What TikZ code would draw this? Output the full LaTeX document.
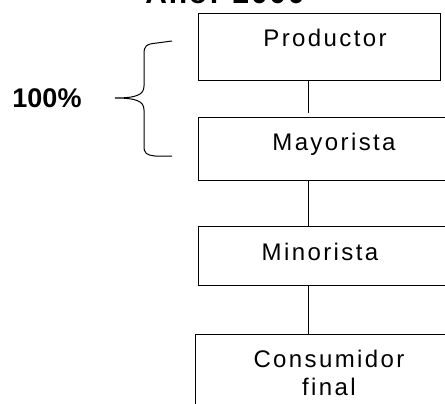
\documentclass[tikz,border=0pt]{standalone}
\usepackage{fontspec}
\setmainfont{Liberation Sans}
\begin{document}
\begin{tikzpicture}[x=1pt,y=-1pt,
  boxst/.style={draw=black, line width=1pt, anchor=north west, inner sep=0pt},
  lbl/.style={font=\fontsize{24}{28}\selectfont\addfontfeature{LetterSpace=10}, anchor=base, inner sep=0pt, align=center},
  conn/.style={draw=black, line width=1pt},
  pct/.style={font=\bfseries\fontsize{27}{30}\selectfont, inner sep=0pt},
  ttl/.style={font=\bfseries\fontsize{30}{34}\selectfont\addfontfeature{LetterSpace=6}, anchor=base, inner sep=0pt}]
\clip (0,0) rectangle (445,404);
% boxes
\node[boxst, minimum width=242pt, minimum height=67pt] (prod) at (198,13) {};
\node[boxst, minimum width=272pt, minimum height=63pt] (may) at (198,117) {};
\node[boxst, minimum width=262pt, minimum height=59pt] (min) at (198,226) {};
\node[boxst, minimum width=275pt, minimum height=100pt] (cons) at (195,334) {};
% labels
\node[lbl] (tprod) at ([xshift=127pt,yshift=-34pt]prod.north west) {Productor};
\node[lbl] (tmay) at ([xshift=136pt,yshift=-33pt]may.north west) {Mayorista};
\node[lbl] (tmin) at ([xshift=122pt,yshift=-34pt]min.north west) {Minorista};
\node[lbl] (tcons) at ([xshift=134pt,yshift=-33pt]cons.north west) {Consumidor};
\node[lbl] (tfinal) at ([xshift=134pt,yshift=-61pt]cons.north west) {final};
% connectors
\draw[conn, shorten >=4pt] ([xshift=110pt]prod.south west) -- ([xshift=110pt]may.north west);
\draw[conn] ([xshift=110pt]may.south west) -- ([xshift=110pt]min.north west);
\draw[conn] ([xshift=110pt]min.south west) -- ([xshift=113pt]cons.north west);
% title (cut off at the top edge, as in the reference)
\node[ttl] (title) at (225,4) {Año: 2000};
% percentage and brace
\node[pct] (pct) at (47,98) {100\%};
\coordinate (btop) at (172,41);
\coordinate (bbot) at (172,156);
\draw[line width=1pt] (btop) -- (157,43) .. controls (146,44) and (144,46) .. (144,54)
  -- (144,86) .. controls (144,95) and (136,98) .. (115,98)
  .. controls (136,98) and (144,101) .. (144,110)
  -- (144,146) .. controls (144,153) and (146,155) .. (155,156) -- (bbot);
\end{tikzpicture}
\end{document}
